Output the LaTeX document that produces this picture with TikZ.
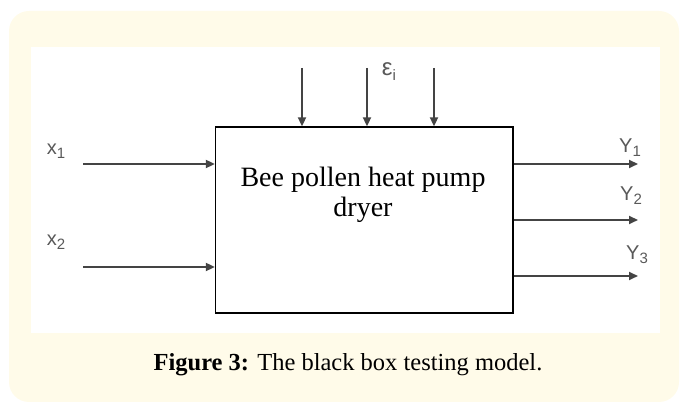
\documentclass[tikz,border=0pt]{standalone}
\usepackage{fontspec}
\setmainfont{Liberation Serif}
\newfontfamily\labelfont{Liberation Sans}
\usepackage{xcolor}
\usepackage{tikz}
\usetikzlibrary{arrows.meta, positioning, calc}
\definecolor{panel}{HTML}{FFFBE9}
\definecolor{wire}{HTML}{444444}
\newcommand{\sublabel}[2]{{\labelfont #1\raisebox{-0.4ex}{\fontsize{15}{15}\selectfont #2}}}

\begin{document}
\begin{tikzpicture}[x=1pt, y=1pt,
    wire/.style={draw=wire, line width=1.8pt, -{Triangle[length=9pt, width=8pt]}},
    lab/.style={text=black!65, font=\fontsize{20}{20}\selectfont}]
    \useasboundingbox (0,0) rectangle (680,403);
    \fill[panel, rounded corners=20pt] (9,1) rectangle (679,392);
    \fill[white] (31,70) rectangle (660,356);
    \node[draw, line width=1.3pt, minimum width=297.5pt, minimum height=186pt, inner sep=0pt] (dryer) at (364.25,183) {};
    \node[font=\fontsize{28}{30}\selectfont, align=center] (name) at (363,208) {Bee pollen heat pump\\dryer};
    \coordinate (t1) at (302,335);
    \coordinate (t2) at (367,335);
    \coordinate (t3) at (434,335);
    \draw[wire] (t1) -- (t1 |- dryer.north);
    \draw[wire] (t2) -- (t2 |- dryer.north);
    \draw[wire] (t3) -- (t3 |- dryer.north);
    \node[lab, font=\fontsize{24}{24}\selectfont] (eps) at (389,331) {\sublabel{ε}{i}};
    \coordinate (in1) at (83,239);
    \coordinate (in2) at (83,136);
    \draw[wire] (in1) -- (in1 -| dryer.west);
    \draw[wire] (in2) -- (in2 -| dryer.west);
    \node[lab] (x1) at (56,252) {\sublabel{x}{1}};
    \node[lab] (x2) at (56,161) {\sublabel{x}{2}};
    \coordinate (out1) at (638,239);
    \coordinate (out2) at (638,183);
    \coordinate (out3) at (638,127);
    \draw[wire] (out1 -| dryer.east) -- (out1);
    \draw[wire] (out2 -| dryer.east) -- (out2);
    \draw[wire] (out3 -| dryer.east) -- (out3);
    \node[lab] (y1) at (630,255) {\sublabel{Y}{1}};
    \node[lab] (y2) at (631,207) {\sublabel{Y}{2}};
    \node[lab] (y3) at (637,148) {\sublabel{Y}{3}};
    \node[font=\fontsize{24.5}{24.5}\selectfont] (caption) at (348,38) {\textbf{Figure 3:} The black box testing model.};
\end{tikzpicture}
\end{document}
